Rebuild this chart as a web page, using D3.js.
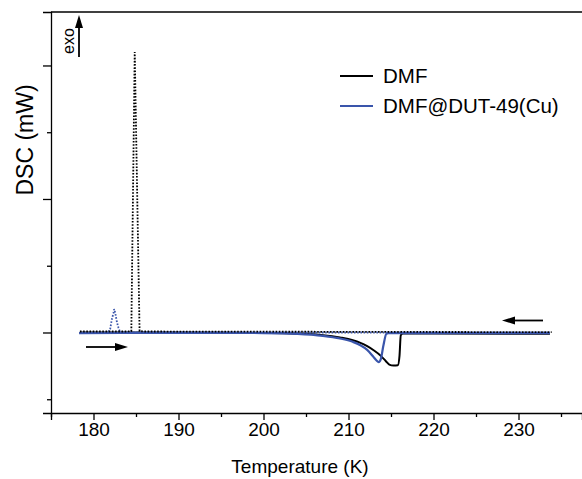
<!DOCTYPE html>
<html>
<head>
<meta charset="utf-8">
<script src="https://cdn.jsdelivr.net/npm/d3@7"></script>
<style>
  body { margin: 0; background: #fff; }
  svg text { font-family: "Liberation Sans", Arial, sans-serif; fill: #000; }
</style>
</head>
<body>
<div id="chart"></div>
<script>
/**
 * DATA
 * */
// DMF, heating (solid black)
const dmfHeatT   = [178.4, 185, 195, 200, 204, 207, 209, 210.5, 211.4, 212.2, 213, 213.8, 214.4, 214.8, 215.3, 215.8, 216.0, 216.15, 216.4, 220, 233.7];
const dmfHeatDSC = [0, 0, -0.003, -0.008, -0.018, -0.04, -0.075, -0.115, -0.155, -0.205, -0.27, -0.35, -0.43, -0.48, -0.495, -0.49, -0.35, -0.04, -0.015, -0.015, -0.02];

// DMF@DUT-49(Cu), heating (solid blue)
const dutHeatT   = [178.3, 185, 195, 200, 204, 207, 209, 210.5, 211.4, 212.2, 212.9, 213.3, 213.55, 213.8, 214.1, 214.45, 214.7, 220, 233.7];
const dutHeatDSC = [-0.01, -0.005, -0.005, -0.008, -0.02, -0.05, -0.09, -0.14, -0.19, -0.26, -0.36, -0.42, -0.445, -0.4, -0.2, -0.02, -0.01, -0.01, -0.01];

// DMF, cooling (dotted black)
const dmfCoolT   = [178.4, 184.0, 184.45, 184.85, 185.42, 186.0, 200, 233.9];
const dmfCoolDSC = [0.015, 0.015, 0.02, 4.2, 0.02, 0.015, 0.012, 0.005];

// DMF@DUT-49(Cu), cooling (dotted blue)
const dutCoolT   = [178.4, 181.7, 181.96, 182.16, 182.35, 182.43, 182.55, 182.75, 182.94, 183.15, 200, 233.7];
const dutCoolDSC = [0, 0, 0.05, 0.2, 0.29, 0.35, 0.3, 0.16, 0.07, 0, 0, 0];

const xMajor = [180, 190, 200, 210, 220, 230];
const xMinor = [175, 185, 195, 205, 215, 225, 235];
const yMajor = [0, 2, 4];
const yMinor = [-1, 1, 3];

const legendNames = ["DMF", "DMF@DUT-49(Cu)"];

/**
 * CONSTANTS
 * */
const width = 582, height = 479;
const margin = { top: 12, right: 0, bottom: 66, left: 51 };
const blue = "#3a55ab";

const svg = d3.select("#chart").append("svg")
  .attr("width", width)
  .attr("height", height);

const x = d3.scaleLinear().domain([175, 237.47]).range([margin.left, width]);
const y = d3.scaleLinear().domain([-1.206, 4.801]).range([height - margin.bottom, margin.top]);

const zip = (a, b) => a.map((t, i) => [t, b[i]]);

// top border (the right side runs off the picture)
svg.append("line")
  .attr("x1", margin.left).attr("x2", width)
  .attr("y1", margin.top).attr("y2", margin.top)
  .attr("stroke", "#000").attr("stroke-width", 1.3);

// x axis
svg.append("g").attr("transform", `translate(0,${height - margin.bottom})`)
  .call(d3.axisBottom(x).tickValues(xMajor).tickSize(7).tickFormat(d3.format("d")))
  .call(g => g.select(".domain").attr("stroke-width", 1.3))
  .call(g => g.selectAll(".tick line").attr("stroke-width", 1.3))
  .call(g => g.selectAll(".tick text").attr("font-size", 19));
svg.append("g").attr("transform", `translate(0,${height - margin.bottom})`)
  .call(d3.axisBottom(x).tickValues(xMinor).tickSize(4).tickFormat(""))
  .call(g => g.select(".domain").remove())
  .call(g => g.selectAll(".tick line").attr("stroke-width", 1.3));

// y axis (no labels)
svg.append("g").attr("transform", `translate(${margin.left},0)`)
  .call(d3.axisLeft(y).tickValues(yMajor).tickSize(8).tickFormat(""))
  .call(g => g.select(".domain").attr("stroke-width", 1.3))
  .call(g => g.selectAll(".tick line").attr("stroke-width", 1.3));
svg.append("g").attr("transform", `translate(${margin.left},0)`)
  .call(d3.axisLeft(y).tickValues(yMinor).tickSize(4).tickFormat(""))
  .call(g => g.select(".domain").remove())
  .call(g => g.selectAll(".tick line").attr("stroke-width", 1.3));

// axis titles
svg.append("text")
  .attr("x", 300).attr("y", 473)
  .attr("text-anchor", "middle").attr("font-size", 19)
  .text("Temperature (K)");
svg.append("text")
  .attr("transform", "translate(33,140) rotate(-90)")
  .attr("text-anchor", "middle").attr("font-size", 23)
  .text("DSC (mW)");

// curves
const smooth = d3.line().x(d => x(d[0])).y(d => y(d[1])).curve(d3.curveMonotoneX);
const straight = d3.line().x(d => x(d[0])).y(d => y(d[1]));

svg.append("path").datum(zip(dmfHeatT, dmfHeatDSC))
  .attr("d", smooth).attr("fill", "none").attr("stroke", "#000").attr("stroke-width", 2);
svg.append("path").datum(zip(dutHeatT, dutHeatDSC))
  .attr("d", smooth).attr("fill", "none").attr("stroke", blue).attr("stroke-width", 2.2);
svg.append("path").datum(zip(dutCoolT, dutCoolDSC))
  .attr("d", straight).attr("fill", "none").attr("stroke", blue)
  .attr("stroke-width", 1.8).attr("stroke-dasharray", "1.6 1.6");
svg.append("path").datum(zip(dmfCoolT, dmfCoolDSC))
  .attr("d", straight).attr("fill", "none").attr("stroke", "#000")
  .attr("stroke-width", 1.8).attr("stroke-dasharray", "1.6 1.6");

// arrows
function arrow(x1, y1, x2, y2) {
  const a = Math.atan2(y2 - y1, x2 - x1), L = 13, W = 4;
  const bx = x2 - L * Math.cos(a), by = y2 - L * Math.sin(a);
  svg.append("line").attr("x1", x1).attr("y1", y1).attr("x2", bx).attr("y2", by)
    .attr("stroke", "#000").attr("stroke-width", 1.8);
  svg.append("path")
    .attr("d", `M${x2},${y2}L${bx - W * Math.sin(a)},${by + W * Math.cos(a)}L${bx + W * Math.sin(a)},${by - W * Math.cos(a)}Z`)
    .attr("fill", "#000");
}
arrow(86, 347, 128, 347);
arrow(543, 320.5, 502, 320.5);
arrow(79, 57, 79, 15);

svg.append("text")
  .attr("transform", "translate(74,41) rotate(-90)")
  .attr("text-anchor", "middle").attr("font-size", 16)
  .text("exo");

// legend
const legend = svg.append("g");
legendNames.forEach((name, i) => {
  const ly = 76 + i * 30;
  legend.append("line").attr("x1", 340).attr("x2", 373).attr("y1", ly).attr("y2", ly)
    .attr("stroke", i === 0 ? "#000" : blue).attr("stroke-width", 2);
  legend.append("text").attr("x", 383).attr("y", ly).attr("dy", "0.35em")
    .attr("font-size", 20.5).text(name);
});
</script>
</body>
</html>
